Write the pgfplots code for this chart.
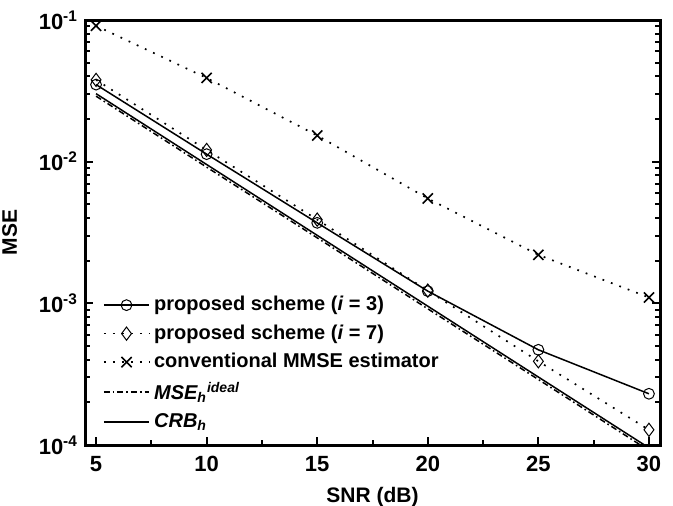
\documentclass[border=0pt]{standalone}
\usepackage{pgfplots}
\pgfplotsset{compat=1.18}
\usepackage{fontspec}
\setmainfont{Liberation Sans}
\begin{document}
\begin{tikzpicture}
\begin{axis}[
  scale only axis,
  width=287.5pt, height=212.5pt,
  ymode=log,
  xmin=4.5, xmax=30.5,
  ymin=1e-4, ymax=1e-1,
  xtick={5,10,15,20,25,30},
  minor x tick num=1,
  ytick={1e-4,1e-3,1e-2,1e-1},
  yticklabels={\textbf{10\textsuperscript{-4}},\textbf{10\textsuperscript{-3}},\textbf{10\textsuperscript{-2}},\textbf{10\textsuperscript{-1}}},
  xticklabels={\textbf{5},\textbf{10},\textbf{15},\textbf{20},\textbf{25},\textbf{30}},
  xtick pos=lower,
  ytick pos=both,
  yticklabel pos=left,
  tick align=inside,
  major tick length=4pt,
  minor tick length=2.5pt,
  every tick/.style={line width=1pt, black},
  axis line style={line width=1.5pt},
  tick label style={font=\fontsize{11}{12}\selectfont\bfseries},
  xticklabel style={yshift=-2pt},
  xlabel={\textbf{SNR (dB)}},
  ylabel={\textbf{MSE}},
  label style={font=\fontsize{10.5}{12}\selectfont\bfseries},
  xlabel style={yshift=-1pt},
  ylabel style={yshift=4pt},
  legend style={at={(rel axis cs:0.02,0.015)}, anchor=south west, draw=none, fill=none,
    font=\fontsize{10}{12}\selectfont\bfseries, row sep=1.5pt},
  legend cell align=left,
  legend image code/.code={
    \draw[mark repeat=2,mark phase=2] plot coordinates {(0cm,0cm) (0.4cm,0cm) (0.8cm,0cm)};
  },
]
\coordinate (bl) at (rel axis cs:0,0);
\addplot[black, line width=0.75pt, mark=o, mark size=2.7pt, mark options={solid, fill=white, line width=0.5pt}]
  coordinates {(5,0.035) (10,0.0113) (15,0.0037) (20,0.00122) (25,0.00047) (30,0.00023)};
\addlegendentry{proposed scheme (\textit{i} = 3)}
\addplot[black, line width=0.85pt, dash pattern=on 0.9pt off 3.6pt, mark=diamond, mark size=3.3pt, mark options={solid, fill=white, line width=0.5pt}]
  coordinates {(5,0.0378) (10,0.0121) (15,0.0039) (20,0.00123) (25,0.00039) (30,0.000128)};
\addlegendentry{proposed scheme (\textit{i} = 7)}
\addplot[black, line width=0.85pt, dash pattern=on 0.9pt off 3.6pt, mark=x, mark size=3.6pt, mark options={solid, line width=0.8pt}]
  coordinates {(5,0.091) (10,0.039) (15,0.0153) (20,0.0055) (25,0.0022) (30,0.0011)};
\addlegendentry{conventional MMSE estimator}
\addplot[black, line width=0.75pt, dash pattern=on 3pt off 1.5pt on 0.8pt off 1.5pt]
  coordinates {(5,0.0290) (10,0.00915) (15,0.00290) (20,0.000915) (25,0.000290) (30,0.0000915)};
\addlegendentry{\textit{MSE\textsubscript{h}\textsuperscript{ideal}}}
\addplot[black, line width=0.75pt]
  coordinates {(5,0.0302) (10,0.00955) (15,0.00302) (20,0.000955) (25,0.000302) (30,0.0000955)};
\addlegendentry{\textit{CRB\textsubscript{h}}}
\end{axis}
\pgfresetboundingbox
\path[use as bounding box] ([shift={(-42.5pt,-30pt)}]bl) rectangle ++(336.5pt,252.5pt);
\end{tikzpicture}
\end{document}
